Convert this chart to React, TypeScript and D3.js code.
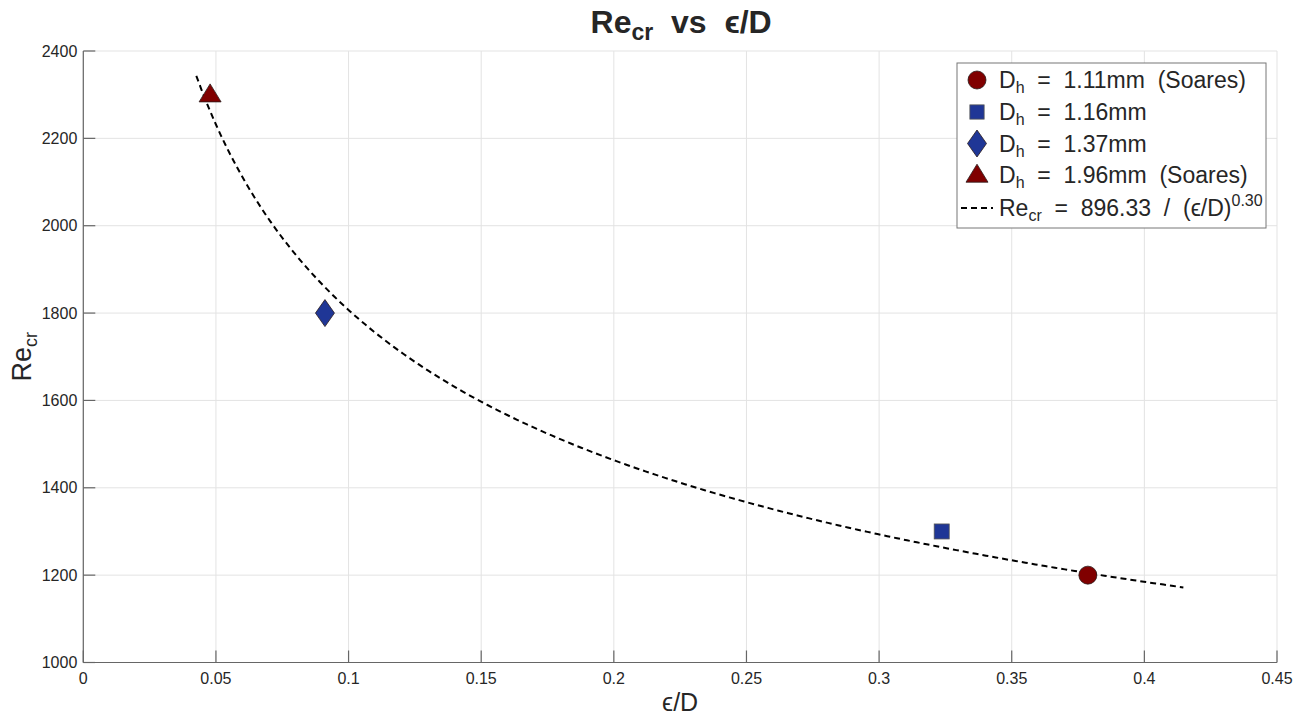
import React from "react";
import * as d3 from "d3";

const xTicks = [0, 0.05, 0.1, 0.15, 0.2, 0.25, 0.3, 0.35, 0.4, 0.45];
const yTicks = [1000, 1200, 1400, 1600, 1800, 2000, 2200, 2400];

const seriesNames = ["1.11mm  (Soares)", "1.16mm", "1.37mm", "1.96mm  (Soares)"];
const seriesX = [0.3787, 0.3236, 0.0911, 0.0478];
const seriesY = [1200, 1300, 1800, 2300];
const seriesShape = ["circle", "square", "diamond", "triangle"];
const seriesColor = ["#800000", "#1f3696", "#1f3696", "#800000"];

const fitA = 896.33;
const fitB = 0.3045;
const fitRange = [0.0426, 0.4147];

const W = 1306, H = 715;
const L = 83.3, R = 1277, T = 51, B = 662.5;
const FONT = "'Liberation Sans', Arial, Helvetica, sans-serif";

function Marker({ shape, x, y, color, scale = 1 }: any) {
  const stroke = "#2a1a1a";
  if (shape === "circle") return <circle cx={x} cy={y} r={9 * scale} fill={color} stroke={stroke} strokeWidth={0.8} />;
  if (shape === "square") {
    const s = 15 * scale;
    return <rect x={x - s / 2} y={y - s / 2} width={s} height={s} fill={color} stroke="#555" strokeWidth={0.8} />;
  }
  if (shape === "diamond") {
    const w = 9.5 * scale, h = 13.5 * scale;
    return <path d={`M${x},${y - h}L${x + w},${y}L${x},${y + h}L${x - w},${y}Z`} fill={color} stroke={stroke} strokeWidth={0.8} />;
  }
  const w = 11 * scale, h = 18 * scale;
  return <path d={`M${x},${y - h * 0.6}L${x + w},${y + h * 0.4}L${x - w},${y + h * 0.4}Z`} fill={color} stroke={stroke} strokeWidth={0.8} />;
}

export default function App() {
  const x = d3.scaleLinear().domain([0, 0.45]).range([L, R]);
  const y = d3.scaleLinear().domain([1000, 2400]).range([B, T]);

  const fitPts: [number, number][] = d3.range(0, 201).map((i) => {
    const xv = fitRange[0] + (fitRange[1] - fitRange[0]) * (i / 200);
    return [xv, fitA / Math.pow(xv, fitB)];
  });
  const line = d3.line<[number, number]>().x((d) => x(d[0])).y((d) => y(d[1]));

  const axisColor = "#666";
  const textColor = "#262626";

  const legX = 957, legY = 63, legW = 309, legH = 165;
  const rowY = [80, 112, 143.5, 175, 208];

  return (
    <svg width={W} height={H} style={{ position: "absolute", left: 0, top: 0, background: "#fff" }} fontFamily={FONT}>
      {xTicks.map((t) => (
        <line key={"gx" + t} x1={x(t)} x2={x(t)} y1={T} y2={B} stroke="#e3e3e3" strokeWidth={1} />
      ))}
      {yTicks.map((t) => (
        <line key={"gy" + t} x1={L} x2={R} y1={y(t)} y2={y(t)} stroke="#e3e3e3" strokeWidth={1} />
      ))}
      <line x1={L} x2={R} y1={B} y2={B} stroke={axisColor} strokeWidth={1.2} />
      <line x1={L} x2={L} y1={T} y2={B} stroke={axisColor} strokeWidth={1.2} />
      {xTicks.map((t) => (
        <g key={"tx" + t}>
          <line x1={x(t)} x2={x(t)} y1={B} y2={B - 12} stroke={axisColor} strokeWidth={1.2} />
          <text x={x(t)} y={B + 21} textAnchor="middle" fontSize={16} fill={textColor}>{t === 0 ? "0" : String(t)}</text>
        </g>
      ))}
      {yTicks.map((t) => (
        <g key={"ty" + t}>
          <line x1={L} x2={L + 12} y1={y(t)} y2={y(t)} stroke={axisColor} strokeWidth={1.2} />
          <text x={L - 6} y={y(t) + 5.5} textAnchor="end" fontSize={16} fill={textColor}>{t}</text>
        </g>
      ))}
      <path d={line(fitPts) || ""} fill="none" stroke="#000" strokeWidth={2} strokeDasharray="6,4" />
      {seriesX.map((xv, i) => (
        <Marker key={"m" + i} shape={seriesShape[i]} x={x(xv)} y={y(seriesY[i])} color={seriesColor[i]} />
      ))}
      <text x={(L + R) / 2 + 1} y={33} textAnchor="middle" fontSize={32} fontWeight="bold" fill={textColor}>
        Re<tspan fontSize={23} dy={7}>cr</tspan>
        <tspan dy={-7}>{"\u00a0\u00a0vs\u00a0\u00a0\u03f5/D"}</tspan>
      </text>
      <text x={(L + R) / 2} y={711} textAnchor="middle" fontSize={25} fill={textColor}>{"\u03f5/D"}</text>
      <text transform={`translate(31,${(T + B) / 2}) rotate(-90)`} textAnchor="middle" fontSize={27} fill={textColor}>
        Re<tspan fontSize={18} dy={6}>cr</tspan>
      </text>
      <rect x={legX} y={legY} width={legW} height={legH} fill="#fff" stroke="#777" strokeWidth={1} />
      {seriesNames.map((n, i) => (
        <g key={"l" + i}>
          <Marker shape={seriesShape[i]} x={977} y={rowY[i]} color={seriesColor[i]} scale={i === 1 ? 0.95 : 1} />
          <text x={999} y={rowY[i] + 8} fontSize={23} fill={textColor}>
            D<tspan fontSize={16} dy={5}>h</tspan>
            <tspan dy={-5}>{"\u00a0\u00a0=\u00a0\u00a0" + n.replace(/ /g, "\u00a0")}</tspan>
          </text>
        </g>
      ))}
      <line x1={961} x2={993} y1={rowY[4]} y2={rowY[4]} stroke="#000" strokeWidth={2} strokeDasharray="6,4" />
      <text x={999} y={rowY[4] + 8} fontSize={23} fill={textColor}>
        Re<tspan fontSize={16} dy={5}>cr</tspan>
        <tspan dy={-5}>{"\u00a0\u00a0=\u00a0\u00a0" + fitA.toFixed(2) + "\u00a0\u00a0/\u00a0\u00a0(\u03f5/D)"}</tspan>
        <tspan fontSize={16} dy={-10}>0.30</tspan>
      </text>
    </svg>
  );
}
